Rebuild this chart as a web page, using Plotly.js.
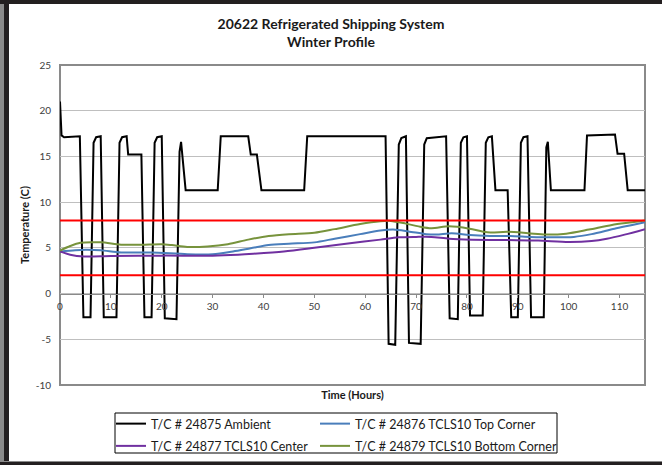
<!DOCTYPE html>
<html>
<head>
<meta charset="utf-8">
<script src="https://cdn.plot.ly/plotly-3.0.1.min.js"></script>
<style>
  html, body { margin: 0; padding: 0; background: #fff; overflow: hidden; }
  #wrap { position: relative; width: 662px; height: 465px; overflow: hidden; }
  #chart { position: absolute; left: 0; top: 0; width: 662px; height: 465px; }
  .edge { position: absolute; pointer-events: none; }
</style>
</head>
<body>
<div id="wrap">
  <div id="chart"></div>
  <div class="edge" style="left:0;top:0;width:4px;height:465px;background:#8a8a8a;"></div>
  <div class="edge" style="left:4px;top:0;width:5px;height:465px;background:#231f20;"></div>
  <div class="edge" style="left:0;top:0;width:662px;height:4px;background:#231f20;"></div>
  <div class="edge" style="left:0;top:461px;width:662px;height:1px;background:#8a8a8a;"></div>
  <div class="edge" style="left:0;top:462px;width:662px;height:3px;background:#231f20;"></div>
</div>
<script>
// ---- data ----
const seriesNames = [
  "T/C # 24875 Ambient",
  "T/C # 24876 TCLS10 Top Corner",
  "T/C # 24877 TCLS10 Center",
  "T/C # 24879 TCLS10 Bottom Corner"
];
const yAxisTitle = "Temperature (C)";
const xAxisTitle = "Time (Hours)";

const ambientHours = [0, 0.3, 0.8, 3.9, 4.6, 6.0, 6.6, 7.1, 8.0, 8.6, 11.1, 11.7, 12.2, 13.1, 13.4, 16.0, 16.6, 18.0, 18.6, 19.1, 20.0, 20.6, 22.9, 23.5, 23.8, 24.7, 31.0, 31.6, 37.0, 37.5, 38.7, 39.6, 48.0, 48.6, 64.0, 64.6, 65.9, 66.6, 67.1, 68.0, 68.6, 70.9, 71.6, 72.1, 75.9, 76.6, 78.2, 78.8, 79.3, 80.0, 80.6, 83.1, 83.7, 84.2, 84.9, 85.6, 88.0, 88.7, 90.0, 90.6, 91.1, 91.9, 92.6, 95.1, 95.6, 95.9, 96.5, 103.1, 103.6, 109.1, 109.6, 110.9, 111.6, 115];
const ambientTemp  = [21.0, 17.3, 17.1, 17.2, -2.6, -2.6, 16.5, 17.1, 17.2, -2.6, -2.6, 16.5, 17.1, 17.2, 15.2, 15.2, -2.6, -2.6, 16.5, 17.1, 17.2, -2.7, -2.8, 15.5, 16.6, 11.3, 11.3, 17.2, 17.2, 15.2, 15.2, 11.3, 11.3, 17.2, 17.2, -5.5, -5.6, 16.3, 17.0, 17.2, -5.4, -5.5, 16.3, 17.0, 17.2, -2.7, -2.8, 16.5, 17.1, 17.2, -2.4, -2.4, 16.5, 17.1, 17.2, 11.3, 11.3, -2.6, -2.6, 16.5, 17.1, 17.2, -2.6, -2.6, 16.0, 16.6, 11.3, 11.3, 17.3, 17.4, 15.3, 15.3, 11.3, 11.3];

const topHours = [0, 3, 5, 8, 12, 18, 25, 30, 34, 37.5, 41, 45, 50, 54, 59, 63, 65.5, 68.5, 72, 74, 77, 80.5, 84.5, 88.5, 92.5, 96, 101, 104.5, 109, 112.5, 115];
const topTemp  = [4.6, 4.75, 4.8, 4.75, 4.5, 4.5, 4.3, 4.3, 4.6, 4.95, 5.3, 5.45, 5.6, 6.0, 6.5, 6.9, 7.0, 6.8, 6.5, 6.45, 6.6, 6.4, 6.3, 6.3, 6.2, 6.15, 6.2, 6.5, 7.1, 7.5, 7.8];

const centerHours = [0, 2, 4.7, 10, 20, 30, 35, 38, 44, 50, 57, 63, 66.5, 70, 73, 76.5, 81, 88, 94, 100, 104.5, 107.5, 111, 115];
const centerTemp  = [4.6, 4.25, 4.05, 4.1, 4.15, 4.15, 4.25, 4.35, 4.6, 5.0, 5.5, 5.9, 6.15, 6.2, 6.2, 6.0, 5.9, 5.85, 5.8, 5.65, 5.75, 6.0, 6.45, 7.05];

const bottomHours = [0, 2, 4, 8, 12, 16, 20, 22, 25, 29, 33, 37, 41, 45, 50, 54, 59, 63, 65, 68, 70.5, 73, 76.5, 80.5, 84, 88, 92, 95.5, 99.5, 104, 108.5, 112.5, 115];
const bottomTemp  = [4.7, 5.2, 5.55, 5.6, 5.35, 5.35, 5.4, 5.3, 5.1, 5.15, 5.4, 5.9, 6.3, 6.5, 6.65, 7.05, 7.6, 7.9, 7.95, 7.65, 7.35, 7.15, 7.35, 7.1, 6.7, 6.75, 6.6, 6.45, 6.55, 7.0, 7.5, 7.8, 8.0];

const limitHours = [0, 115];
const upperLimit = 8;
const lowerLimit = 2;

const xTickVals = [0, 10, 20, 30, 40, 50, 60, 70, 80, 90, 100, 110];
const yTickVals = [-10, -5, 0, 5, 10, 15, 20, 25];

// ---- chart ----
const FONT = "Lato, 'Liberation Sans', sans-serif";
const colors = ["#000000", "#4a7ebb", "#7030a0", "#77933c"];

const traces = [
  {x: ambientHours, y: ambientTemp, name: seriesNames[0], mode: "lines",
   legend: "legend", legendgroup: "g1",
   line: {color: colors[0], width: 2}},
  {x: topHours, y: topTemp, name: seriesNames[1], mode: "lines",
   legend: "legend2", legendgroup: "g2",
   line: {color: colors[1], width: 2, shape: "spline", smoothing: 0.8}},
  {x: centerHours, y: centerTemp, name: seriesNames[2], mode: "lines",
   legend: "legend", legendgroup: "g3",
   line: {color: colors[2], width: 2, shape: "spline", smoothing: 0.8}},
  {x: bottomHours, y: bottomTemp, name: seriesNames[3], mode: "lines",
   legend: "legend2", legendgroup: "g4",
   line: {color: colors[3], width: 2, shape: "spline", smoothing: 0.8}},
  {x: limitHours, y: limitHours.map(() => upperLimit), mode: "lines", showlegend: false,
   hoverinfo: "skip", line: {color: "#ff0000", width: 2}},
  {x: limitHours, y: limitHours.map(() => lowerLimit), mode: "lines", showlegend: false,
   hoverinfo: "skip", line: {color: "#ff0000", width: 2}}
];

// plot area in pixels: x 60..645, y 65..385
const PL = 60, PR = 645, PT = 65, PB = 385;
const px = v => (v - PL) / (PR - PL);
const py = v => (PB - v) / (PB - PT);

const legendCommon = {
  orientation: "v", xref: "container", yref: "container",
  xanchor: "left", yanchor: "top", itemwidth: 30,
  bgcolor: "rgba(0,0,0,0)", borderwidth: 0,
  font: {family: FONT, size: 12.5, color: "#1a1a1a"},
  traceorder: "grouped", tracegroupgap: 3
};

const layout = {
  width: 662, height: 465,
  paper_bgcolor: "#ffffff", plot_bgcolor: "#ffffff",
  margin: {l: PL, r: 662 - PR, t: PT, b: 465 - PB, pad: 0, autoexpand: false},
  font: {family: FONT, color: "#404040", size: 10},
  title: {
    text: "20622 Refrigerated Shipping System<br>Winter Profile",
    font: {family: FONT, size: 14, color: "#1a1a1a", weight: "bold"},
    x: 0.5, xref: "container", xanchor: "center",
    y: 1 - 29 / 465, yref: "container", yanchor: "top"
  },
  xaxis: {
    range: [0, 115], anchor: "free", position: 10 / 35,
    tickvals: xTickVals, ticktext: xTickVals.map(String),
    showline: true, linecolor: "#8a8a8a", linewidth: 1,
    ticks: "outside", ticklen: 3, tickcolor: "#8a8a8a",
    showgrid: false, zeroline: false,
    tickfont: {family: FONT, size: 10, color: "#404040"},
    title: {text: xAxisTitle, standoff: 80,
            font: {family: FONT, size: 11, color: "#1a1a1a", weight: "bold"}}
  },
  yaxis: {
    range: [-10, 25], tickvals: yTickVals, ticktext: yTickVals.map(String),
    showgrid: true, gridcolor: "#bfbfbf", gridwidth: 1, zeroline: false,
    showline: false, ticks: "", ticklabelstandoff: 8,
    tickfont: {family: FONT, size: 10, color: "#404040"}
  },
  annotations: [
    {text: yAxisTitle, xref: "paper", yref: "paper", x: px(24), y: 0.5,
     xanchor: "center", yanchor: "middle", textangle: -90, showarrow: false,
     font: {family: FONT, size: 11, color: "#1a1a1a", weight: "bold"}}
  ],
  shapes: [
    {type: "rect", xref: "paper", yref: "paper", x0: 0, x1: 1, y0: 0, y1: 1,
     line: {color: "#8a8a8a", width: 2}, fillcolor: "rgba(0,0,0,0)", layer: "below"},
    {type: "rect", xref: "paper", yref: "paper",
     x0: px(115), x1: px(557), y0: py(453), y1: py(413),
     line: {color: "#000000", width: 1}, fillcolor: "rgba(0,0,0,0)", layer: "above"}
  ],
  showlegend: true,
  legend: Object.assign({}, legendCommon, {x: 111 / 662, y: 1 - 409 / 465}),
  legend2: Object.assign({}, legendCommon, {x: 315 / 662, y: 1 - 409 / 465})
};

Plotly.newPlot("chart", traces, layout, {displayModeBar: false, staticPlot: true});
</script>
</body>
</html>
